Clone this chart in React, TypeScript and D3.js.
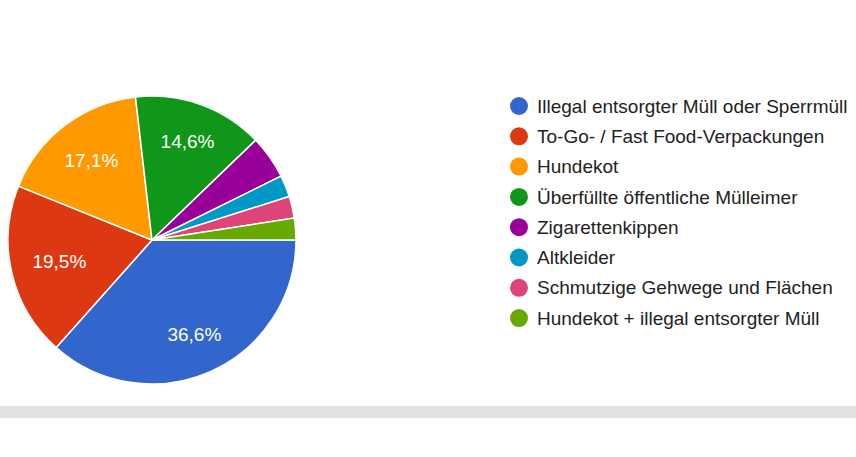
import React, { useEffect, useRef } from "react";
import * as d3 from "d3";

const categories = [
  "Illegal entsorgter Müll oder Sperrmüll",
  "To-Go- / Fast Food-Verpackungen",
  "Hundekot",
  "Überfüllte öffentliche Mülleimer",
  "Zigarettenkippen",
  "Altkleider",
  "Schmutzige Gehwege und Flächen",
  "Hundekot + illegal entsorgter Müll",
];
const counts = [15, 8, 7, 6, 2, 1, 1, 1];
const colors = ["#3366cc", "#dc3912", "#ff9900", "#109618", "#990099", "#0099c6", "#dd4477", "#66aa00"];

const width = 856;
const height = 457;

export default function App() {
  const ref = useRef<SVGSVGElement>(null);

  useEffect(() => {
    const svg = d3.select(ref.current);
    svg.selectAll("*").remove();

    svg.append("rect").attr("width", width).attr("height", height).attr("fill", "#fff");

    // grey divider at the bottom
    svg.append("rect").attr("x", 0).attr("y", 406).attr("width", width).attr("height", 12).attr("fill", "#e0e2df");

    const cx = 152;
    const cy = 240;
    const radius = 144;
    const total = d3.sum(counts);

    const pie = d3
      .pie<number>()
      .sort(null)
      .startAngle(Math.PI / 2)
      .endAngle(Math.PI / 2 + 2 * Math.PI)
      .value((d) => d);
    const arcs = pie(counts);
    const arc = d3.arc<d3.PieArcDatum<number>>().innerRadius(0).outerRadius(radius);

    const g = svg.append("g").attr("transform", `translate(${cx},${cy})`);
    g.selectAll("path")
      .data(arcs)
      .join("path")
      .attr("d", arc)
      .attr("fill", (d, i) => colors[i])
      .attr("stroke", "#fff")
      .attr("stroke-width", 1.5);

    // labels: outer corner of the text box sits at a fixed distance from the centre
    const farR = 123;
    const halfH = 7;
    const labels = g
      .selectAll("text")
      .data(arcs.filter((d) => d.data / total >= 0.05))
      .join("text")
      .attr("text-anchor", "middle")
      .attr("fill", "#fff")
      .attr("font-family", "Arial, 'Liberation Sans', sans-serif")
      .attr("font-size", 19)
      .text((d) => ((d.data / total) * 100).toFixed(1).replace(".", ",") + "%");

    labels.each(function (d) {
      const el = this as SVGTextElement;
      const halfW = el.getComputedTextLength() / 2;
      const a = (d.startAngle + d.endAngle) / 2;
      const ux = Math.sin(a);
      const uy = -Math.cos(a);
      const c = [Math.sign(ux) * halfW, Math.sign(uy) * halfH];
      const b = ux * c[0] + uy * c[1];
      const cc = c[0] * c[0] + c[1] * c[1];
      const t = -b + Math.sqrt(b * b - cc + farR * farR);
      d3.select(el)
        .attr("x", t * ux)
        .attr("y", t * uy + 6.8);
    });

    const legend = svg.append("g").attr("transform", "translate(519,106)");
    const row = legend
      .selectAll("g")
      .data(categories)
      .join("g")
      .attr("transform", (d, i) => `translate(0,${i * 30.3})`);
    row.append("circle").attr("r", 9).attr("fill", (d, i) => colors[i]);
    row
      .append("text")
      .attr("x", 18)
      .attr("dy", "0.35em")
      .attr("fill", "#222")
      .attr("font-family", "Arial, 'Liberation Sans', sans-serif")
      .attr("font-size", 19)
      .text((d) => d);
  }, []);

  return (
    <svg
      ref={ref}
      width={width}
      height={height}
      style={{ position: "absolute", left: 0, top: 0 }}
    />
  );
}
